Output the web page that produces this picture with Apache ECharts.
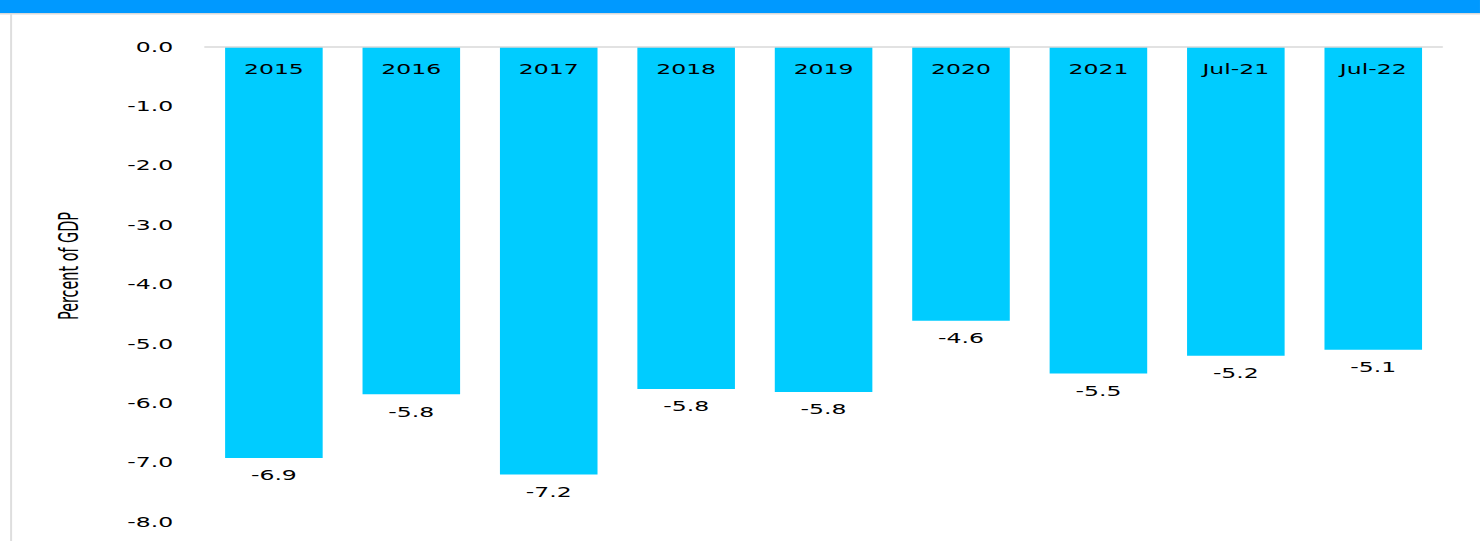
<!DOCTYPE html>
<html>
<head>
<meta charset="utf-8">
<script src="https://cdn.jsdelivr.net/npm/echarts@6/dist/echarts.min.js"></script>
<style>
  html, body { margin: 0; padding: 0; background: #fff; overflow: hidden; }
  /* the reference is stretched sideways, so draw narrow and widen */
  #chart { width: 880px; height: 541px; transform: scaleX(1.6818); transform-origin: 0 0; }
</style>
</head>
<body>
<div id="chart"></div>
<script>
const categories = ["2015", "2016", "2017", "2018", "2019", "2020", "2021", "Jul-21", "Jul-22"];
const deficit = [-6.92, -5.85, -7.2, -5.76, -5.81, -4.61, -5.5, -5.2, -5.1];
const labelValues = ["-6.9", "-5.8", "-7.2", "-5.8", "-5.8", "-4.6", "-5.5", "-5.2", "-5.1"];

const font = "DejaVu Sans, Verdana, sans-serif";
const chart = echarts.init(document.getElementById("chart"), null, { renderer: "svg" });

const option = {
  animation: false,
  backgroundColor: "#fff",
  graphic: [
    { type: "rect", shape: { x: 0, y: 0, width: 880, height: 13 }, style: { fill: "#0099ff" } },
    { type: "rect", shape: { x: 0, y: 13, width: 880, height: 1.5 }, style: { fill: "#d9d9d9" } },
    { type: "rect", shape: { x: 6, y: 14, width: 1.2, height: 527 }, style: { fill: "#dedede" } },
    {
      type: "text",
      x: 40.5,
      y: 266,
      rotation: Math.PI / 2,
      style: {
        text: "Percent of GDP",
        font: "16px 'Liberation Sans Narrow', 'DejaVu Sans Condensed', sans-serif",
        fill: "#000",
        align: "center",
        verticalAlign: "middle"
      }
    }
  ],
  grid: { left: 122, right: 22.6, top: 47, bottom: 19 },
  xAxis: {
    type: "category",
    data: categories,
    position: "top",
    z: 10,
    axisLine: { show: true, lineStyle: { color: "#d9d9d9", width: 1.5 } },
    axisTick: { show: false },
    axisLabel: {
      inside: true,
      margin: 15,
      color: "#000",
      fontFamily: font,
      fontSize: 14,
      verticalAlign: "top"
    }
  },
  yAxis: {
    type: "value",
    min: -8,
    max: 0,
    interval: 1,
    axisLine: { show: false },
    axisTick: { show: false },
    splitLine: { show: false },
    axisLabel: {
      margin: 19,
      color: "#000",
      fontFamily: font,
      fontSize: 14,
      formatter: v => v.toFixed(1)
    }
  },
  series: [
    {
      type: "bar",
      data: deficit,
      barCategoryGap: "29%",
      itemStyle: { color: "#00ccff" },
      label: {
        show: true,
        position: "bottom",
        distance: 10.5,
        color: "#000",
        fontFamily: font,
        fontSize: 14,
        formatter: p => labelValues[p.dataIndex]
      }
    }
  ]
};

chart.setOption(option);
</script>
</body>
</html>
